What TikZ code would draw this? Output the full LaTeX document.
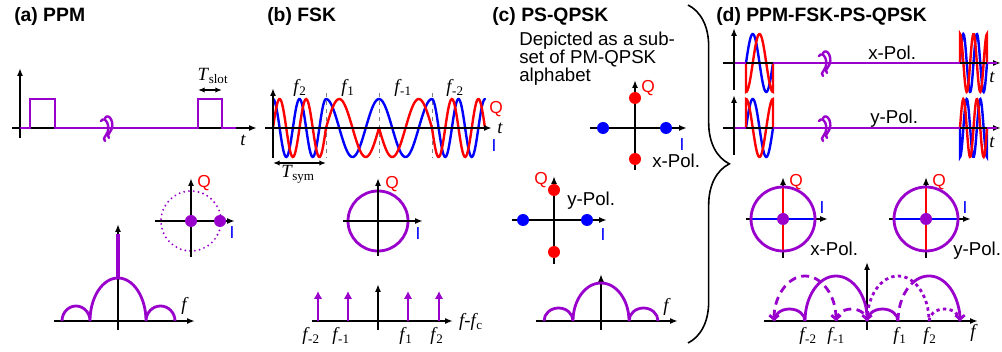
\documentclass[tikz,border=0pt]{standalone}
\usepackage{fontspec}
\setmainfont{Liberation Sans}
\newfontfamily\tms{Liberation Serif}
\usetikzlibrary{arrows.meta, decorations.pathreplacing}
\definecolor{sigPur}{RGB}{153,0,204}
\definecolor{sigRed}{RGB}{255,0,0}
\definecolor{sigBlue}{RGB}{0,0,255}
\newcommand{\fk}[1]{f\kern0.5pt\textsubscript{\upshape #1}}
\newcommand{\Tk}[1]{T\kern0.5pt\textsubscript{\upshape #1}}
% break mark on a time axis, centred at (#1,#2)
\newcommand{\brksym}[2]{%
  \foreach \o/\v in {0/0,-4/3}
    \draw[sigPur, line width=1.8pt, line cap=round] ({#1+\o-3},{#2+\v-10}) .. controls ({#1+\o+1},{#2+\v-16}) and ({#1+\o+8},{#2+\v-4}) .. ({#1+\o+2},{#2+\v+4})
      .. controls ({#1+\o},{#2+\v+7}) and ({#1+\o-1},{#2+\v+9}) .. ({#1+\o+1},{#2+\v+10});}

\begin{document}
\begin{tikzpicture}[
    x=0.75pt, y=-0.75pt,
    ax/.style={-{Latex[length=6pt,width=4.5pt]}, line width=1.25pt},
    dax/.style={{Latex[length=5pt,width=4pt]}-{Latex[length=5pt,width=4pt]}, line width=1pt},
    pur/.style={draw=sigPur, line width=2.1pt},
    lng/.style={dash pattern=on 6pt off 4pt},
    shrt/.style={dash pattern=on 2.5pt off 2.5pt},
    tipb/.style={-{Straight Barb[length=3pt,width=7pt]}},
    wvI/.style={draw=sigBlue, line width=1.8pt, line cap=round},
    wvQ/.style={draw=sigRed, line width=1.8pt, line cap=round},
    symdot/.style={circle, inner sep=0pt, minimum size=9pt},
    ttl/.style={anchor=base west, inner sep=0pt, font=\fontsize{14.5}{16}\selectfont\bfseries},
    txt/.style={inner sep=0pt, font=\fontsize{14}{16}\selectfont},
    lblQ/.style={inner sep=0pt, text=sigRed, font=\fontsize{13}{15}\selectfont},
    lblI/.style={inner sep=0pt, text=sigBlue, font=\fontsize{13}{15}\selectfont},
    var/.style={inner sep=0pt, font=\fontsize{14}{16}\selectfont\tms\itshape},
    bnd/.style={draw=gray, line width=0.7pt, dashed}
]
\useasboundingbox (0,0) rectangle (1002,352);

% --- (a) PPM ---
\node[ttl] (ttlA) at (14,22) {(a) PPM};
\draw[ax] (20,138) -- (20,68);
\draw[ax] (12,128) -- (257,128);
\draw[pur] (20,128) -- (30,128) -- (30,99) -- (55,99) -- (55,128) -- (198,128)
    -- (198,99) -- (222,99) -- (222,128) -- (236,128);
\brksym{108}{128}
\draw[dax] (198,90) -- (222,90);
\node[var] (tslot) at (213,76) {\Tk{slot}};
\node[var] (tA) at (243,140) {t};

% constellation
\draw[sigPur, line width=1.6pt, dash pattern=on 0pt off 3.6pt, line cap=round] (191,221) circle[radius=30];
\draw[ax] (155,221) -- (235,221);
\draw[ax] (191,257) -- (191,178);
\node[symdot, fill=sigPur] (a0) at (191,221) {};
\node[symdot, fill=sigPur] (a1) at (220,221) {};
\node[lblQ] (qA) at (204,183) {Q};
\node[lblI] (iA) at (232,233) {I};

% spectrum
\draw[ax] (54,321) -- (195,321);
\draw[ax] (118,330) -- (118,224);
\draw[pur] (62,321) arc[start angle=180, end angle=360, x radius=14, y radius=15]
    (90,321) arc[start angle=180, end angle=360, x radius=28, y radius=43]
    (146,321) arc[start angle=180, end angle=360, x radius=14.5, y radius=15];
\draw[sigPur, line width=2.4pt] (118,278) -- (118,234);
\node[var] (fA) at (184,306) {f};

% --- (b) FSK ---
\node[ttl] (ttlB) at (267,22) {(b) FSK};
\foreach \xb in {326,379,432}
    \draw[bnd] (\xb,93) -- (\xb,158);
\foreach \s/\k in {273/2, 326/1, 379/-1, 432/-2} {
    \draw[wvI] plot[domain=\s:\s+53, samples=60] (\x, {128-29*cos(360/53*\k*(\x-\s))});
    \draw[wvQ] plot[domain=\s:\s+53, samples=60] (\x, {128-29*sin(360/53*\k*(\x-\s))});
}
\draw[ax] (273,158) -- (273,88);
\draw[ax] (265,128) -- (492,128);
\draw[dax] (273,163) -- (326,163);
\node[var] (tsym) at (298,174) {\Tk{sym}};
\node[var] (tB) at (500,128) {t};
\node[lblQ] (qB) at (496,109) {Q};
\node[lblI] (iB) at (494,146) {I};
\node[var] (fb2) at (300,88) {\fk{2}};
\node[var] (fb1) at (348,88) {\fk{1}};
\node[var] (fbm1) at (403,88) {\fk{-1}};
\node[var] (fbm2) at (455,88) {\fk{-2}};

% constellation
\draw[sigPur, line width=2.1pt] (378,221) circle[radius=30];
\draw[ax] (343,221) -- (423,221);
\draw[ax] (378,256) -- (378,178);
\node[lblQ] (qB2) at (392,184) {Q};
\node[lblI] (iB2) at (418,234) {I};

% spectrum
\draw[ax] (312,321) -- (453,321);
\draw[ax] (378,330) -- (378,284);
\foreach \xb in {318,348,408,439}
    \draw[pur, -{Latex[length=6pt,width=6.5pt]}] (\xb,321) -- (\xb,291);
\node[var] (sbm2) at (311,336) {\fk{-2}};
\node[var] (sbm1) at (341,336) {\fk{-1}};
\node[var] (sb1) at (406,336) {\fk{1}};
\node[var] (sb2) at (437,336) {\fk{2}};
\node[var] (ffc) at (471,322) {f{\upshape -}\fk{c}};

% --- (c) PS-QPSK ---
\node[ttl] (ttlC) at (492,22) {(c) PS-QPSK};
\node[txt, anchor=north west, align=left, font=\fontsize{14}{13.5}\selectfont] (note) at (519,32)
    {Depicted as a sub-\\set of PM-QPSK\\alphabet};

% x-Pol. constellation
\draw[ax] (590,128) -- (687,128);
\draw[ax] (635,170) -- (635,80);
\node[symdot, fill=sigBlue] (cx1) at (603,128) {};
\node[symdot, fill=sigBlue] (cx2) at (666,128) {};
\node[symdot, fill=sigRed] (cx3) at (635,98) {};
\node[symdot, fill=sigRed] (cx4) at (635,159) {};
\node[lblQ] (qCx) at (648,88) {Q};
\node[lblI] (iCx) at (682,145) {I};
\node[txt, anchor=base west] (polCx) at (652,168) {x-Pol.};

% y-Pol. constellation
\draw[ax] (512,220) -- (607,220);
\draw[ax] (554,264) -- (554,176);
\node[symdot, fill=sigBlue] (cy1) at (523,220) {};
\node[symdot, fill=sigBlue] (cy2) at (587,220) {};
\node[symdot, fill=sigRed] (cy3) at (554,190) {};
\node[symdot, fill=sigRed] (cy4) at (554,252) {};
\node[lblQ] (qCy) at (541,180) {Q};
\node[lblI] (iCy) at (603,235) {I};
\node[txt, anchor=base west] (polCy) at (567,206) {y-Pol.};

% spectrum
\draw[ax] (536,321) -- (678,321);
\draw[ax] (601,330) -- (601,274);
\draw[pur] (544,321) arc[start angle=180, end angle=360, x radius=14.5, y radius=13]
    (573,321) arc[start angle=180, end angle=360, x radius=28, y radius=38]
    (629,321) arc[start angle=180, end angle=360, x radius=14.5, y radius=13];
\node[var] (fC) at (666,307) {f};

% brace
\draw[line width=1.2pt, decorate, decoration={brace, amplitude=31pt, aspect=0.47}] (688,5) -- (688,343);

% --- (d) PPM-FSK-PS-QPSK ---
\node[ttl] (ttlD) at (716,22) {(d) PPM-FSK-PS-QPSK};
\foreach \xs/\yc/\n/\pI/\pQ in {746/63/1/-90/180, 746/128/1/-90/0, 960/63/2/-90/0, 960/128/2/180/-90} {
    \draw[wvI] (\xs,\yc) -- plot[domain=\xs:\xs+27, samples=50] (\x, {\yc-29*cos(360/27*\n*(\x-\xs)+\pI)}) -- (\xs+27,\yc);
    \draw[wvQ] (\xs,\yc) -- plot[domain=\xs:\xs+27, samples=50] (\x, {\yc-29*cos(360/27*\n*(\x-\xs)+\pQ)}) -- (\xs+27,\yc);
}
\foreach \yc/\yt in {63/28, 128/95} {
    \draw[ax] (734,\yc+27) -- (734,\yt);
    \draw[ax] (723,\yc) -- (1001,\yc);
    \draw[pur] (735,\yc) -- (746,\yc) (773,\yc) -- (960,\yc) (987,\yc) -- (997,\yc);
    \brksym{826}{\yc}
}
\node[txt, anchor=base west] (polDx) at (868,60) {x-Pol.};
\node[txt, anchor=base west] (polDy) at (870,124) {y-Pol.};
\node[var] (tDx) at (992,77) {t};
\node[var] (tDy) at (992,142) {t};

% constellations
\foreach \cx/\nm in {783/x, 926/y} {
    \draw[ax] (\cx-37,219) -- (\cx+45,219);
    \draw[ax] (\cx,258) -- (\cx,177);
    \draw[sigRed, line width=1.7pt] (\cx,187) -- (\cx,251);
    \draw[sigBlue, line width=1.7pt] (\cx-32,219) -- (\cx+32,219);
    \draw[sigPur, line width=2.1pt] (\cx,219) circle[radius=32];
    \node[symdot, fill=sigPur] (d0\nm) at (\cx,219) {};
    \node[lblQ] (qD\nm) at (\cx+13,182) {Q};
    \node[lblI] (iD\nm) at (\cx+39,208) {I};
    \node[txt, anchor=base west] (polD\nm) at (\cx+27,256) {\nm-Pol.};
}

% spectrum
\draw[ax] (764,321) -- (978,321);
\draw[ax] (867,330) -- (867,262);
\draw[pur, tipb] (805,321) arc[start angle=180, end angle=360, x radius=31, y radius=45];
\draw[pur] (774,321) arc[start angle=180, end angle=360, x radius=15.5, y radius=12]
    (867,321) arc[start angle=180, end angle=360, x radius=15.5, y radius=12];
\draw[pur, lng, {Straight Barb[length=3pt,width=7pt]}-{Straight Barb[length=3pt,width=7pt]}]
    (774,321) arc[start angle=180, end angle=360, x radius=31, y radius=45];
\draw[pur, lng] (836,321) arc[start angle=180, end angle=360, x radius=15.5, y radius=12];
\draw[pur, shrt] (867,321) arc[start angle=180, end angle=360, x radius=31, y radius=45];
\draw[pur, shrt] (929,321) arc[start angle=180, end angle=360, x radius=15.5, y radius=12];
\draw[pur, lng] (898,321) arc[start angle=180, end angle=240, x radius=31, y radius=45];
\draw[pur, tipb] (913.5,282) arc[start angle=240, end angle=360, x radius=31, y radius=45];
\node[var] (sdm2) at (808,336) {\fk{-2}};
\node[var] (sdm1) at (836,336) {\fk{-1}};
\node[var] (sd1) at (900,336) {\fk{1}};
\node[var] (sd2) at (930,336) {\fk{2}};
\node[var] (fD) at (973,333) {f};

\end{tikzpicture}
\end{document}
